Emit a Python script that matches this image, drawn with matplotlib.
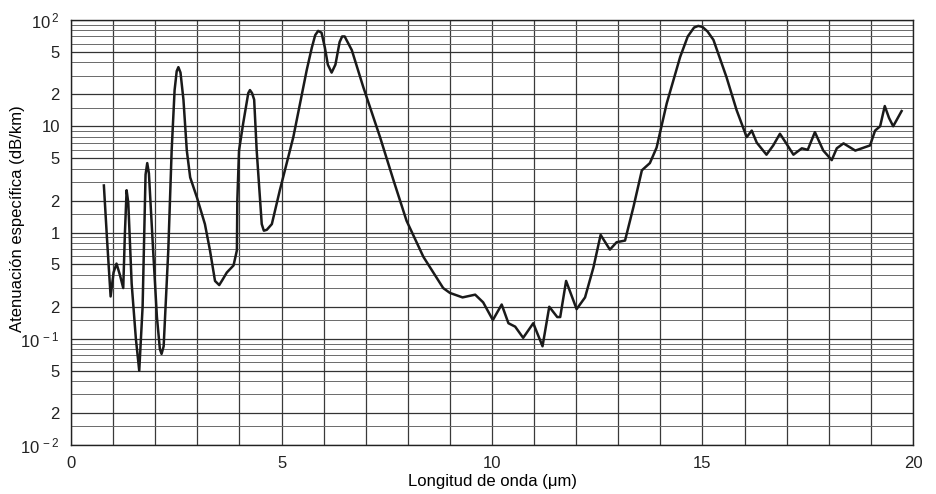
import matplotlib
matplotlib.use('Agg')
import matplotlib.pyplot as plt
from matplotlib.ticker import NullFormatter
import numpy as np

plt.rcParams['font.family'] = ['Liberation Sans', 'DejaVu Sans']
plt.rcParams['font.size'] = 12

# wavelength (um) and specific attenuation (dB/km)
wavelength = [0.78, 0.86, 0.94, 1.01, 1.08, 1.16, 1.24, 1.28, 1.32, 1.36, 1.44, 1.54, 1.62, 1.70, 1.77,
              1.81, 1.85, 1.95, 2.04, 2.11, 2.15, 2.20, 2.31, 2.39, 2.46, 2.51, 2.55, 2.60, 2.67, 2.75,
              2.83, 2.99, 3.18, 3.30, 3.42, 3.52, 3.60, 3.70, 3.86, 3.94, 3.95, 3.99, 4.09, 4.17, 4.21, 4.25,
              4.30, 4.35, 4.41, 4.49, 4.53, 4.58, 4.65, 4.77, 4.96, 5.28, 5.60, 5.72, 5.80, 5.87, 5.95, 6.03, 6.10, 6.19,
              6.28, 6.38, 6.44, 6.50, 6.67, 6.94, 7.34, 7.66, 7.97, 8.37, 8.84, 9.00, 9.30, 9.60, 9.79, 10.02,
              10.23, 10.39, 10.55, 10.74, 10.98, 11.20, 11.36, 11.55, 11.62, 11.76, 12.01, 12.21, 12.41, 12.58, 12.80,
              12.96, 13.16, 13.36, 13.56, 13.75, 13.91, 14.15, 14.47, 14.65, 14.80, 14.90, 15.00, 15.12, 15.26, 15.57, 15.81, 16.05,
              16.17, 16.29, 16.52, 16.68, 16.84, 17.00, 17.16, 17.36, 17.50, 17.67, 17.87, 18.07, 18.19, 18.35, 18.63,
              18.98, 19.10, 19.22, 19.33, 19.43, 19.53, 19.73]
attenuation = [2.77, 0.8, 0.25, 0.42, 0.51, 0.4, 0.30, 1.0, 2.5, 1.9, 0.33, 0.1, 0.05, 0.2, 3.5,
               4.5, 3.6, 0.68, 0.16, 0.08, 0.072, 0.085, 0.68, 5.9, 21.9, 33, 36, 32, 17.8, 5.9,
               3.3, 2.14, 1.2, 0.68, 0.35, 0.32, 0.36, 0.42, 0.49, 0.68, 2.0, 5.9, 10.7, 16.4, 20.5, 21.9,
               20.5, 17.8, 5.9, 2.0, 1.2, 1.04, 1.06, 1.2, 2.5, 7.9, 34, 55, 72, 79, 76, 55, 38, 32,
               38, 62, 70, 70, 52, 23.5, 7.9, 3.1, 1.29, 0.59, 0.30, 0.27, 0.245, 0.26, 0.22, 0.15,
               0.21, 0.14, 0.13, 0.102, 0.14, 0.085, 0.20, 0.16, 0.16, 0.35, 0.19, 0.245, 0.47, 0.95, 0.69,
               0.81, 0.84, 1.74, 3.85, 4.5, 6.3, 16.4, 45, 70, 85, 88, 86, 78, 65, 29, 14.2, 7.9,
               9.1, 7.0, 5.4, 6.6, 8.5, 6.8, 5.4, 6.2, 6.0, 8.8, 5.9, 4.8, 6.2, 6.9, 5.9,
               6.6, 9.1, 10, 15.5, 12, 10, 13.9]

ytick_vals = [0.01, 0.02, 0.05, 0.1, 0.2, 0.5, 1, 2, 5, 10, 20, 50, 100]
ytick_labels = [r'$\mathregular{10^{\,-2}}$', '2', '5', r'$\mathregular{10^{\,-1}}$', '2', '5', '1',
                '2', '5', '10', '2', '5', r'$\mathregular{10^{\,2}}$']
xtick_vals = [0, 5, 10, 15, 20]

fig = plt.figure(figsize=(9.36, 4.94), dpi=100)
ax = fig.add_axes([0.0759, 0.0992, 0.8995, 0.8603])

ax.set_yscale('log')
ax.set_xlim(0, 20)
ax.set_ylim(0.01, 100)

minor = [m * 10.0 ** d for d in range(-2, 2) for m in [1.5, 2, 3, 4, 5, 6, 7, 8, 9]]
ax.set_yticks(minor, minor=True)
ax.yaxis.set_minor_formatter(NullFormatter())
ax.set_yticks(ytick_vals)
ax.set_yticklabels(ytick_labels)
ax.set_xticks(np.arange(0, 21, 1), minor=True)
ax.set_xticks(xtick_vals)
ax.set_xticklabels([str(v) for v in xtick_vals])

ax.grid(True, which='both', axis='x', color='#3a3a3a', lw=0.9)
ax.grid(True, which='major', axis='y', color='#333333', lw=0.9)
ax.grid(True, which='minor', axis='y', color='#6a6a6a', lw=0.7)
ax.tick_params(which='both', length=0, labelsize=12, colors='#222222')
ax.tick_params(axis='x', pad=8)
ax.tick_params(axis='y', pad=8)

ax.plot(wavelength, attenuation, color='#1a1a1a', lw=1.8)

for s in ax.spines.values():
    s.set_color('#222222')
    s.set_linewidth(1.0)

ax.set_xlabel('Longitud de onda (\u03bcm)', fontsize=12, labelpad=2)
ax.set_ylabel('Atenuación específica (dB/km)', fontsize=12)
ax.yaxis.set_label_coords(-0.0546, 0.533)

fig.savefig('out.png', dpi=100)
